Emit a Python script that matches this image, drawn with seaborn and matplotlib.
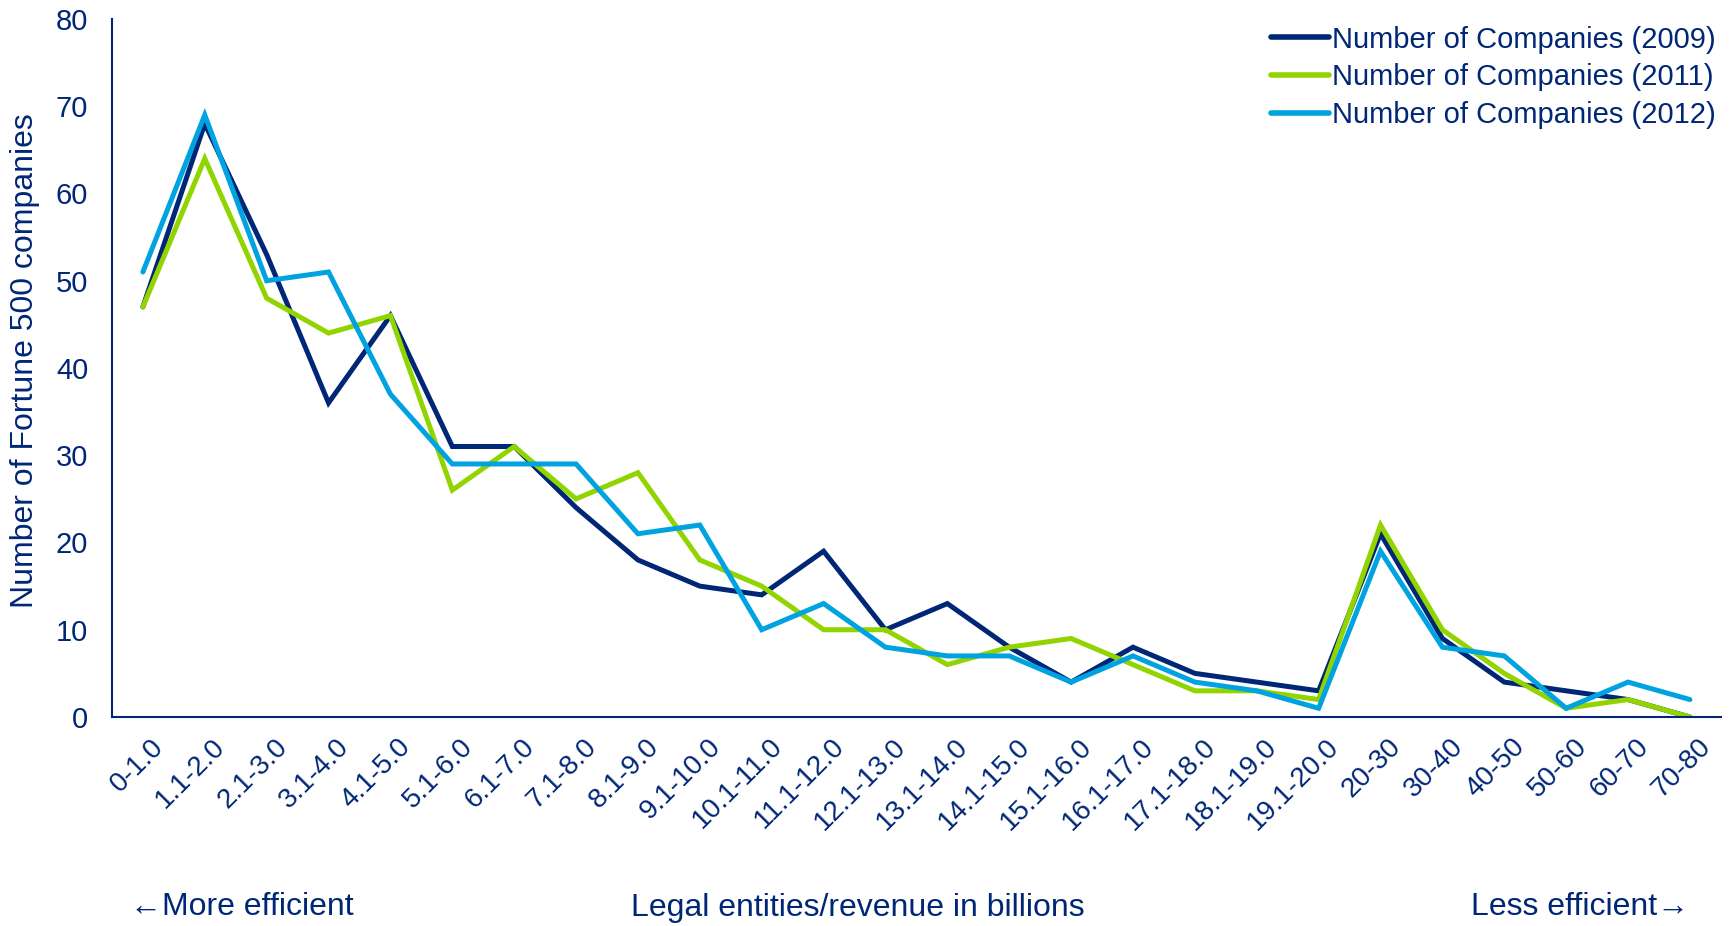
### Line chart: Fortune 500 companies by legal entities per revenue ###

import numpy as np
import pandas as pd
import matplotlib

matplotlib.use("Agg")
import matplotlib.pyplot as plt
import seaborn as sns

NAVY = "#002776"
GREEN = "#92d400"
BLUE = "#00a3e0"

categories = [
    "0-1.0", "1.1-2.0", "2.1-3.0", "3.1-4.0", "4.1-5.0", "5.1-6.0", "6.1-7.0",
    "7.1-8.0", "8.1-9.0", "9.1-10.0", "10.1-11.0", "11.1-12.0", "12.1-13.0",
    "13.1-14.0", "14.1-15.0", "15.1-16.0", "16.1-17.0", "17.1-18.0",
    "18.1-19.0", "19.1-20.0", "20-30", "30-40", "40-50", "50-60", "60-70", "70-80",
]
companies_2009 = [47, 68, 53, 36, 46, 31, 31, 24, 18, 15, 14, 19, 10, 13, 8, 4, 8, 5, 4, 3, 21, 9, 4, 3, 2, 0]
companies_2011 = [47, 64, 48, 44, 46, 26, 31, 25, 28, 18, 15, 10, 10, 6, 8, 9, 6, 3, 3, 2, 22, 10, 5, 1, 2, 0]
companies_2012 = [51, 69, 50, 51, 37, 29, 29, 29, 21, 22, 10, 13, 8, 7, 7, 4, 7, 4, 3, 1, 19, 8, 7, 1, 4, 2]
series_names = [
    "Number of Companies (2009)",
    "Number of Companies (2011)",
    "Number of Companies (2012)",
]

frames = []
for name, values in zip(series_names, [companies_2009, companies_2011, companies_2012]):
    frames.append(pd.DataFrame({"pos": np.arange(len(categories)), "count": values, "series": name}))
df = pd.concat(frames, ignore_index=True)

sns.set_style("white")
plt.rcParams["font.family"] = ["Liberation Sans", "DejaVu Sans"]

fig = plt.figure(figsize=(17.33, 9.26), dpi=100)
ax = fig.add_axes([0.0646, 0.2257, 0.9284, 0.7538])

sns.lineplot(
    data=df, x="pos", y="count", hue="series", hue_order=series_names,
    palette=[NAVY, GREEN, BLUE], linewidth=3.6, sort=False, ax=ax,
    solid_joinstyle="miter",
)

ax.set_xlim(-0.5, len(categories) - 0.5)
ax.set_ylim(0, 80)
ax.set_yticks(range(0, 81, 10))

# ticks sit on category boundaries, labels on category centres
ax.set_xticks(np.arange(-0.5, len(categories), 1))
ax.set_xticklabels([])
ax.set_xticks(np.arange(len(categories)) + 0.12, minor=True)
ax.set_xticklabels(categories, minor=True, rotation=45, ha="right",
                   rotation_mode="anchor", fontsize=20, color=NAVY)
ax.tick_params(axis="x", which="major", direction="out", length=7, width=1.3, color=NAVY)
ax.tick_params(axis="x", which="minor", length=0, pad=12)
ax.tick_params(axis="y", direction="out", length=7, width=1.3, color=NAVY,
               labelsize=21, labelcolor=NAVY, pad=10)
for lab in ax.get_xticklabels(minor=True):
    lab.set_va("top")

sns.despine(ax=ax)
for side in ["left", "bottom"]:
    ax.spines[side].set_color(NAVY)
    ax.spines[side].set_linewidth(1.5)

ax.set_xlabel("")
ax.set_ylabel("Number of Fortune 500 companies", fontsize=23, color=NAVY)
ax.yaxis.set_label_coords(-0.045, 0.51)

leg = ax.legend(
    loc="upper right", bbox_to_anchor=(0.997, 0.985), bbox_transform=fig.transFigure,
    frameon=False, fontsize=21, handlelength=2.0, handletextpad=0.1,
    labelspacing=0.33, borderaxespad=0,
)
for text in leg.get_texts():
    text.set_color(NAVY)
for line in leg.get_lines():
    line.set_linewidth(4)

fig.text(0.075, 0.021, "\u2190More efficient", fontsize=23, color=NAVY, ha="left", va="center")
fig.text(0.495, 0.019, "Legal entities/revenue in billions", fontsize=23, color=NAVY,
         ha="center", va="center")
fig.text(0.9745, 0.021, "Less efficient\u2192", fontsize=23, color=NAVY, ha="right", va="center")

fig.savefig("out.png", dpi=100)
